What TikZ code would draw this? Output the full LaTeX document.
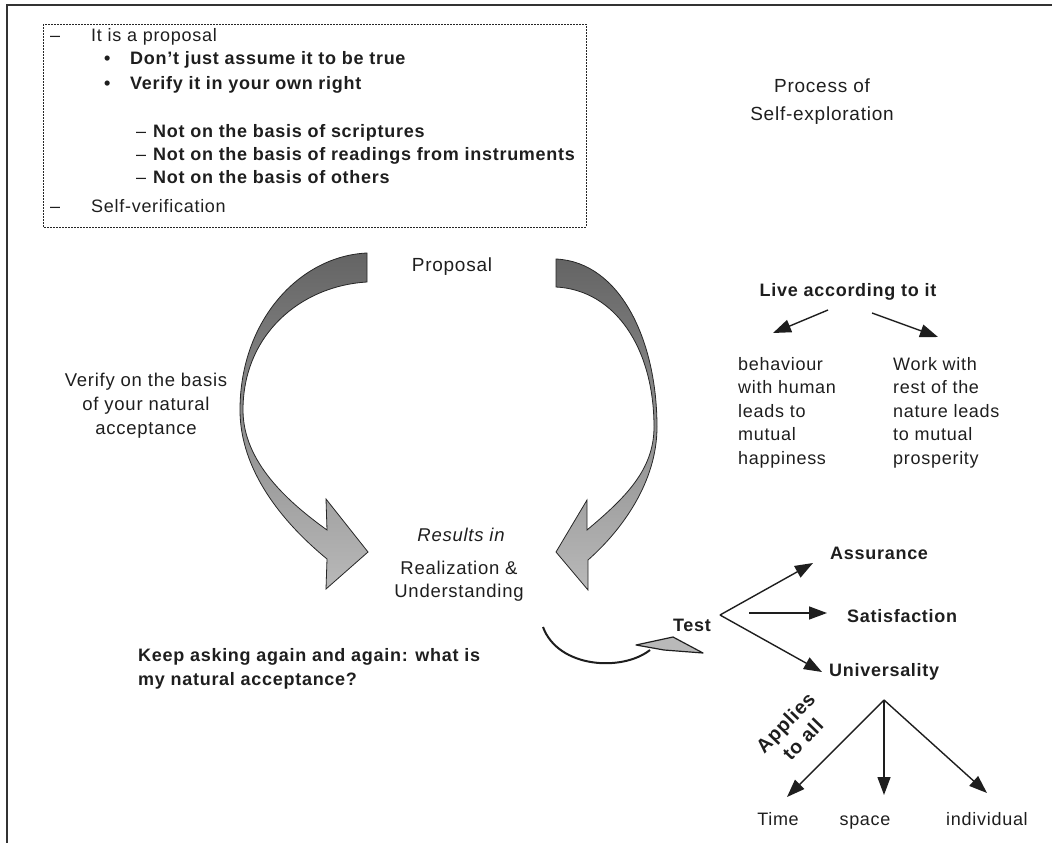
\documentclass[tikz,border=0pt]{standalone}
\usepackage{fontspec}
\setmainfont{Liberation Sans}[LetterSpace=4]
\usetikzlibrary{arrows.meta}
\definecolor{ribdark}{RGB}{100,100,100}
\definecolor{riblight}{RGB}{185,185,185}
\definecolor{inkc}{RGB}{30,30,30}
\begin{document}
\begin{tikzpicture}[x=1pt,y=-1pt,
  txt/.style={inner sep=0pt, text=inkc, font=\fontsize{18}{23.5}\selectfont},
  btxt/.style={inner sep=0pt, text=inkc, font=\fontsize{18}{23.5}\selectfont\bfseries},
  bigtxt/.style={inner sep=0pt, text=inkc, font=\fontsize{19}{28}\selectfont},
  tipline/.style={-{Triangle[length=18pt,width=13pt]}, line width=1.4pt, draw=inkc},
  ribbon/.style={draw=black!85, line width=0.8pt, top color=ribdark, bottom color=riblight},
]
\useasboundingbox (0,0) rectangle (1052,843);
% outer frame (left and top)
\draw[line width=2pt, black!80] (7,843) -- (7,5) -- (1052,5);

% dotted box
\draw[line width=0.9pt, dash pattern=on 2pt off 1pt, black!85] (43,24) rectangle (586,227);
\node[txt, anchor=base west] (d1) at (50,42) {–};
\node[txt, anchor=base west] (l1) at (91,42) {It is a proposal};
\node[btxt, anchor=base west] (b1) at (104,64) {•};
\node[btxt, anchor=base west] (l2) at (130,64) {Don't just assume it to be true};
\node[btxt, anchor=base west] (b2) at (104,89) {•};
\node[btxt, anchor=base west] (l3) at (130,89) {Verify it in your own right};
\node[txt, anchor=base west] (d2) at (136,137) {–};
\node[btxt, anchor=base west] (l4) at (153,137) {Not on the basis of scriptures};
\node[txt, anchor=base west] (d3) at (136,160) {–};
\node[btxt, anchor=base west] (l5) at (153,160) {Not on the basis of readings from instruments};
\node[txt, anchor=base west] (d4) at (136,183) {–};
\node[btxt, anchor=base west] (l6) at (153,183) {Not on the basis of others};
\node[txt, anchor=base west] (d5) at (50,212) {–};
\node[txt, anchor=base west] (l7) at (91,212) {Self-verification};

% title
\node[bigtxt, align=center] (title) at (822,102) {Process of\\Self-exploration};

% proposal
\node[bigtxt] (proposal) at (452,267) {Proposal};

% left ribbon arrow
\path[ribbon] (367,253) .. controls (300,256) and (240,320) .. (240,410)
  .. controls (240,470) and (282,522) .. (327,559) -- (326,589) -- (368,552) -- (326,499) -- (327,530)
  .. controls (288,502) and (243,462) .. (243,410)
  .. controls (243,335) and (300,286) .. (367,282) -- cycle;

% right ribbon arrow
\path[ribbon] (556,259) .. controls (620,262) and (657,340) .. (657,427)
  .. controls (657,482) and (622,530) .. (588,560) -- (588,590) -- (556,552) -- (587,500) -- (587,530)
  .. controls (625,498) and (654,470) .. (654,427)
  .. controls (654,348) and (615,290) .. (556,287) -- cycle;

% verify text
\node[bigtxt, align=center, font=\fontsize{18.5}{24}\selectfont] (verify) at (146,406) {Verify on the basis\\of your natural\\acceptance};

% results
\node[bigtxt, font=\fontsize{18.5}{24}\selectfont\itshape] (results) at (461,535) {Results in};
\node[bigtxt, align=center, font=\fontsize{18.5}{23}\selectfont] (realize) at (459,581) {Realization \&\\Understanding};

% live according
\node[btxt] (live) at (848,292) {Live according to it};
\node[txt, align=left, anchor=north west] (behav) at (738,357) {behaviour\\with human\\leads to\\mutual\\happiness};
\node[txt, align=left, anchor=north west] (work) at (893,357) {Work with\\rest of the\\nature leads\\to mutual\\prosperity};
\coordinate (lv1s) at (828,310); \coordinate (lv1e) at (773,333);
\coordinate (lv2s) at (872,313); \coordinate (lv2e) at (938,337);
\draw[tipline] (lv1s) -- (lv1e);
\draw[tipline] (lv2s) -- (lv2e);

% keep asking
\node[btxt, align=left, anchor=west] (keep) at (138,669) {Keep asking again and again: what is\\my natural acceptance?};

% curved arrow to test
\coordinate (cs) at (543,627);
\coordinate (ce) at (650,650);
\draw[line width=2pt, inkc] (cs) .. controls (558,668) and (622,672) .. (ce);
\filldraw[fill=riblight, draw=inkc, line width=1.2pt, line join=round] (636,645) -- (673,637) -- (703,653) -- (664,650) -- cycle;

% test tree
\node[btxt] (test) at (692,625) {Test};
\coordinate (tapex) at (720,615);
\node[btxt, anchor=west] (assur) at (830,553) {Assurance};
\node[btxt, anchor=west] (satis) at (847,616) {Satisfaction};
\node[btxt, anchor=west] (univ) at (829,672) {Universality};
\coordinate (t1e) at (813,563);
\coordinate (t2s) at (749,613); \coordinate (t2e) at (827,613);
\coordinate (t3e) at (822,672);
\draw[tipline] (tapex) -- (t1e);
\draw[tipline] (t2s) -- (t2e);
\draw[tipline] (tapex) -- (t3e);

% universality tree
\coordinate (uapex) at (884,700);
\node[txt, anchor=base] (time) at (778,825) {Time};
\node[txt, anchor=base] (space) at (865,825) {space};
\node[txt, anchor=base] (indiv) at (987,825) {individual};
\coordinate (u1e) at (787,797);
\coordinate (u2e) at (884,795);
\coordinate (u3e) at (987,793);
\draw[tipline] (uapex) -- (u1e);
\draw[tipline] (uapex) -- (u2e);
\draw[tipline] (uapex) -- (u3e);
\node[inner sep=0pt, text=inkc, align=center, rotate=46, font=\fontsize{19.5}{24}\selectfont\bfseries] (applies) at (794,731) {Applies\\to all};
\end{tikzpicture}
\end{document}
